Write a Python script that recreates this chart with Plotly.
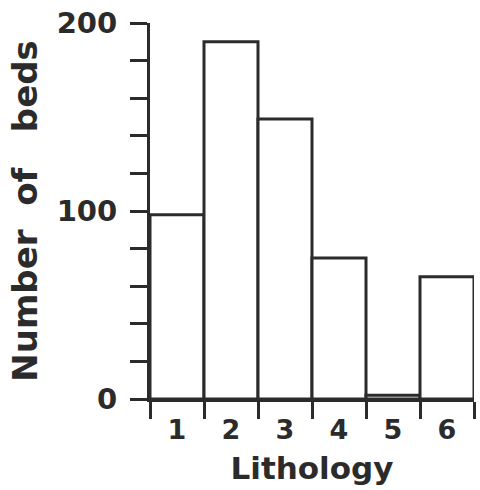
import plotly.graph_objects as go

# Bed counts per lithology class
lithology = [1, 2, 3, 4, 5, 6]
tick_labels = ["1", "2", "3", "4", "5", "6"]
bed_counts = [98, 190, 149, 75, 2, 65]

INK = "#2b2b2b"
FONT = "DejaVu Sans"

fig = go.Figure(
    go.Bar(
        x=lithology,
        y=bed_counts,
        width=1,
        marker=dict(color="white", line=dict(color=INK, width=3)),
        showlegend=False,
    )
)

fig.update_layout(
    width=480,
    height=490,
    margin=dict(l=150, r=6, t=23, b=91),
    paper_bgcolor="white",
    plot_bgcolor="white",
    font=dict(family=FONT, color=INK, weight="bold"),
    xaxis=dict(
        range=[0.5, 6.5],
        tickvals=lithology,
        ticktext=tick_labels,
        ticks="outside",
        ticklen=5,
        tickcolor="rgba(0,0,0,0)",
        tickfont=dict(size=27, family=FONT, color=INK, weight="bold"),
        minor=dict(
            tickvals=[0.5, 1.5, 2.5, 3.5, 4.5, 5.5, 6.5],
            ticks="outside",
            ticklen=17,
            tickwidth=3,
            tickcolor=INK,
        ),
        showline=True,
        linewidth=3,
        linecolor=INK,
        showgrid=False,
        zeroline=False,
        title=dict(
            text="Lithology",
            font=dict(size=31, family=FONT, color=INK, weight="bold"),
            standoff=13,
        ),
    ),
    yaxis=dict(
        range=[0, 200],
        tickvals=[0, 100, 200],
        ticks="outside",
        ticklen=17,
        tickwidth=3,
        tickcolor=INK,
        ticklabelstandoff=7,
        tickfont=dict(size=29, family=FONT, color=INK, weight="bold"),
        minor=dict(dtick=20, ticks="outside", ticklen=17, tickwidth=3, tickcolor=INK),
        showline=True,
        linewidth=3,
        linecolor=INK,
        showgrid=False,
        zeroline=False,
        title=dict(
            text="Number\u00a0\u00a0of\u00a0\u00a0\u00a0beds",
            font=dict(size=34, family=FONT, color=INK, weight="bold"),
            standoff=9,
        ),
    ),
)

fig.write_html("out.html")
